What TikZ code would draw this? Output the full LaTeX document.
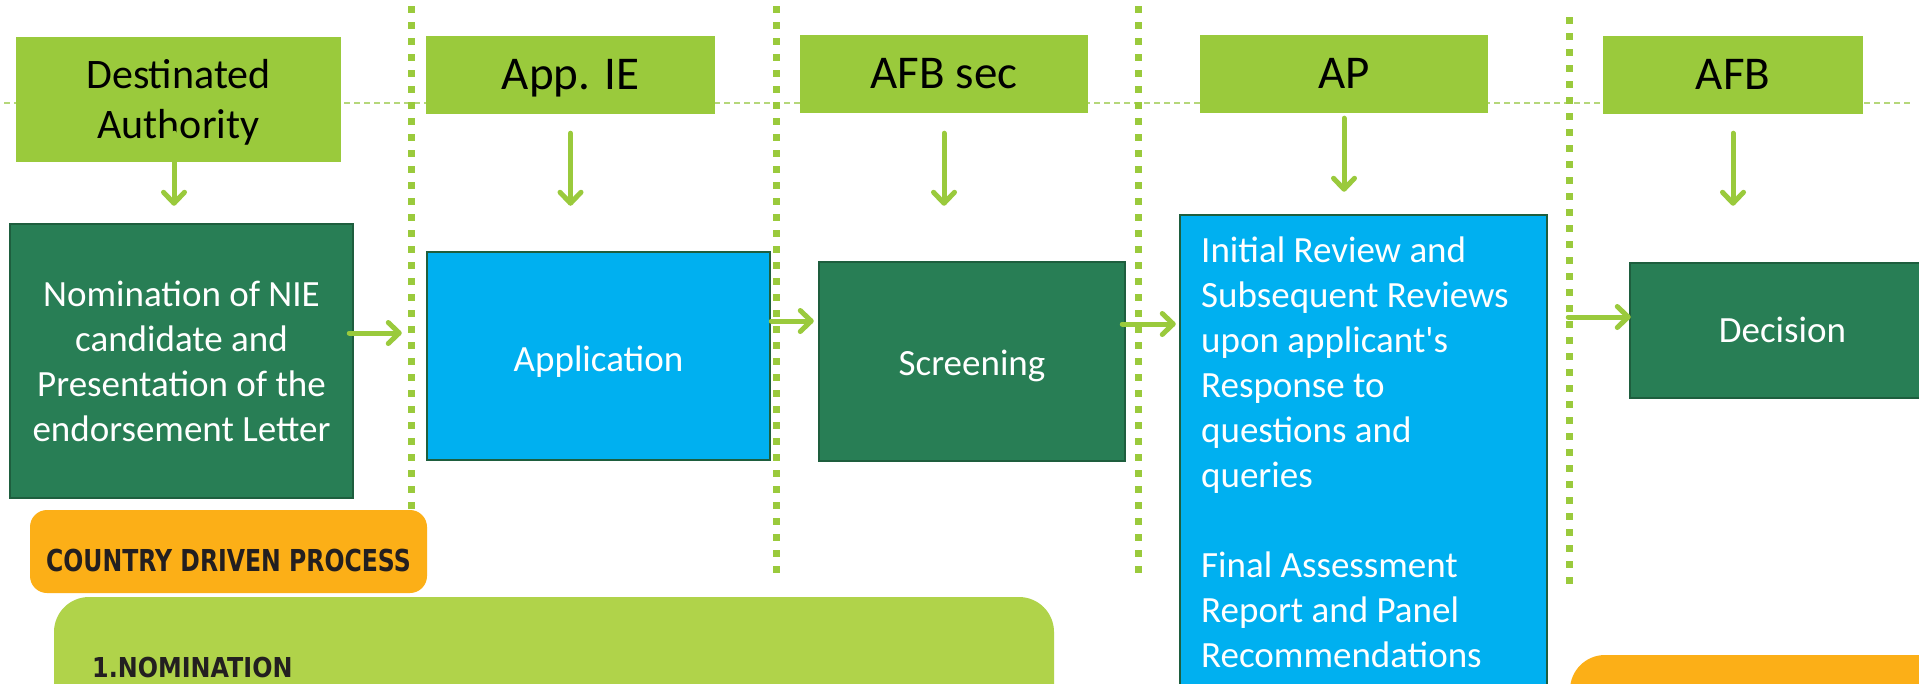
\documentclass[tikz,border=0pt]{standalone}
\usepackage{fontspec}
\setmainfont{Carlito}
\newfontfamily\cdpfont[FakeStretch=0.78]{DejaVu Sans}
\newfontfamily\nomfont[FakeStretch=0.87]{DejaVu Sans}
\usetikzlibrary{arrows.meta}
\definecolor{hdr}{HTML}{9ACA3C}
\definecolor{dkg}{HTML}{287E55}
\definecolor{dkgb}{HTML}{1E5E3E}
\definecolor{cyanb}{HTML}{00B0F0}
\definecolor{hlinec}{HTML}{B5D77A}
\definecolor{orng}{HTML}{FCAF17}
\definecolor{limeb}{HTML}{B0D34A}
\definecolor{lblc}{HTML}{231F20}
\tikzset{
  hdrbox/.style={fill=hdr, draw=none, inner sep=0pt, anchor=center,
    font=\fontsize{47}{56}\selectfont, text height=29.7pt, text depth=0pt},
  hdrtwo/.style={fill=hdr, draw=none, inner sep=0pt, anchor=center,
    font=\fontsize{42}{50}\selectfont},
  procg/.style={fill=dkg, draw=dkgb, line width=2.5pt, inner sep=0pt, text=white,
    font=\fontsize{37}{45}\selectfont},
  procb/.style={fill=cyanb, draw=dkgb, line width=2.5pt, inner sep=0pt, text=white,
    font=\fontsize{37}{45}\selectfont},
  capc/.style={text height=23.4pt, text depth=0pt},
  arr/.style={draw=hdr, line width=5pt, line cap=round,
    -{Straight Barb[length=11pt, width=21pt, line cap=round, line join=round]}},
  sepline/.style={draw=hdr, line width=7pt, dash pattern=on 6.5pt off 9.5pt},
  midline/.style={draw=hlinec, line width=2.5pt, dash pattern=on 6pt off 4pt},
}
\begin{document}
\begin{tikzpicture}[x=1pt,y=-1pt]
\useasboundingbox (0,0) rectangle (1919,683);
\clip (0,0) rectangle (1919,683);
\fill[white] (0,0) rectangle (1919,683);

% dashed horizontal guide
\draw[midline] (4,103) -- (1912,103);

% dotted separators
\draw[sepline] (411,6) -- (411,510);
\draw[sepline] (776,6) -- (776,576);
\draw[sepline] (1138,6) -- (1138,576);
\draw[sepline] (1569,17) -- (1569,585);

% headers
\node[hdrtwo, minimum width=325pt, minimum height=125pt, text height=27pt, text depth=50pt] (hDA) at (178.5,99.5)
  {\parbox[t]{325pt}{\centering Destinated\\Authority}};
\node[hdrbox, minimum width=289pt, minimum height=78pt] (hApp) at (570.5,75) {App. IE};
\node[hdrbox, minimum width=288pt, minimum height=78pt] (hSec) at (944,74) {AFB sec};
\node[hdrbox, minimum width=288pt, minimum height=78pt] (hAP) at (1344,74) {AP};
\node[hdrbox, minimum width=260pt, minimum height=78pt] (hAFB) at (1733,75) {AFB};

% process boxes
\node[procg, minimum width=343pt, minimum height=274pt, align=center] (nom) at (181.5,361)
  {Nomination of NIE\\candidate and\\Presentation of the\\endorsement Letter};
\node[procb, text height=31.4pt, text depth=0pt, minimum width=343pt, minimum height=208pt] (app) at (598.5,356) {Application};
\node[procg, text height=27.4pt, text depth=0pt, minimum width=306pt, minimum height=199pt] (scr) at (972,361.5) {Screening};
\node[procb, minimum width=367pt, minimum height=490pt] (apb) at (1363.5,460) {};
\node[procg, capc, minimum width=305pt, minimum height=135pt] (dec) at (1782.5,330.5) {Decision};
\node[anchor=base west, inner sep=0pt, text=white, font=\fontsize{37}{45}\selectfont] (aptext) at (1201,262)
  {\parbox[t]{345pt}{\raggedright Initial Review and\\Subsequent Reviews\\upon applicant\textquotesingle s\\Response to\\questions and\\queries\\[45pt]Final Assessment\\Report and Panel\\Recommendations}};

% bottom panels
\node[fill=orng, draw=none, rounded corners=17pt, minimum width=397pt, minimum height=83pt,
  inner sep=0pt, text=lblc, font=\cdpfont\bfseries\fontsize{30.2}{36}\selectfont,
  text height=39pt, text depth=0pt] (cdp) at (228.5,551.5) {COUNTRY DRIVEN PROCESS};
\node[fill=limeb, draw=none, rounded corners=35pt, minimum width=1000pt, minimum height=140pt,
  inner sep=0pt] (lime) at (554,667) {};
\node[anchor=base west, inner sep=0pt, text=lblc, font=\nomfont\bfseries\fontsize{27.4}{33}\selectfont]
  (nomlab) at (92,677) {1.NOMINATION};
\node[fill=orng, draw=none, rounded corners=35pt, minimum width=400pt, minimum height=120pt,
  inner sep=0pt] (brbox) at (1770,715) {};

% vertical arrows
\draw[arr, shorten <=-29pt, shorten >=17pt] ([xshift=-4.5pt]hDA.south) -- ([xshift=-4.5pt]hDA.south |- nom.north);
\draw[arr, shorten <=19pt, shorten >=45pt] (hApp.south) -- (hApp.south |- app.north);
\draw[arr, shorten <=20pt, shorten >=55pt] (hSec.south) -- (hSec.south |- scr.north);
\draw[arr, shorten <=5pt, shorten >=22pt] (hAP.south) -- (hAP.south |- apb.north);
\draw[arr, shorten <=19pt, shorten >=56pt] (hAFB.south) -- (hAFB.south |- dec.north);

% horizontal arrows
\draw[arr, shorten <=-5pt, shorten >=24pt] ([yshift=28pt]nom.east) -- ([yshift=28pt]nom.east -| app.west);
\draw[arr, shorten >=4pt] ([yshift=35pt]app.east) -- ([yshift=35pt]app.east -| scr.west);
\draw[arr, shorten <=-4pt, shorten >=3pt] ([yshift=37.5pt]scr.east) -- ([yshift=37.5pt]scr.east -| apb.west);
\draw[arr, shorten <=20pt, shorten >=-2pt] ([yshift=13.5pt]dec.west -| apb.east) -- ([yshift=13.5pt]dec.west);
\end{tikzpicture}
\end{document}
